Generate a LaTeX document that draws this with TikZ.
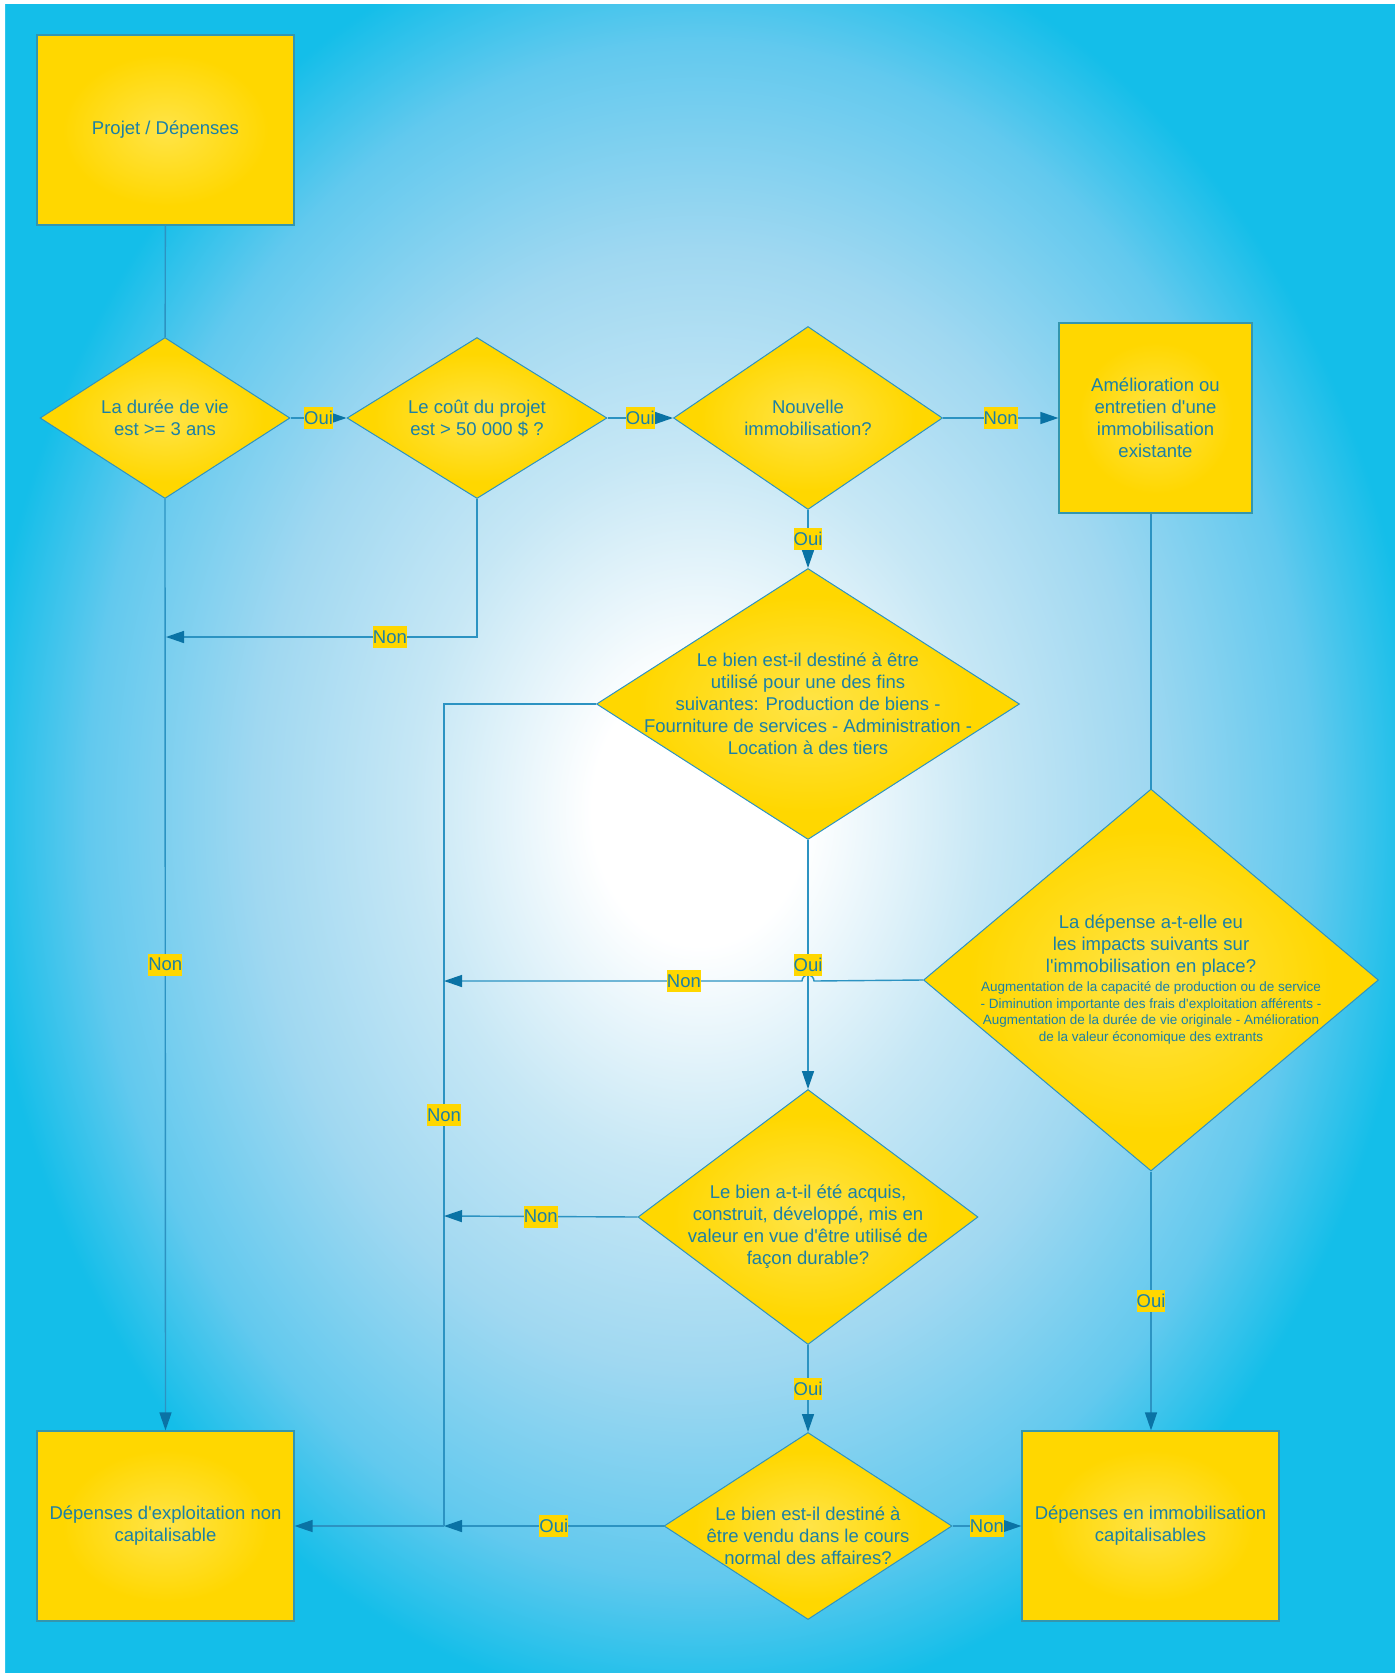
\documentclass[tikz,border=0pt]{standalone}
\usepackage{fontspec}
\setmainfont{Liberation Sans}[Ligatures=TeXOff]
\usetikzlibrary{shapes.geometric,arrows.meta}

\definecolor{bgcyan}{HTML}{14BEE9}
\definecolor{bgmid}{HTML}{62C9EE}
\definecolor{bgsoft}{HTML}{A0D8F1}
\definecolor{bglight}{HTML}{C6E7F5}
\definecolor{yellowfill}{HTML}{FFD700}
\definecolor{yellowlight}{HTML}{FFE448}
\definecolor{textblue}{HTML}{1B80A6}
\definecolor{lineblue}{HTML}{2C93C2}
\definecolor{tipblue}{HTML}{0A73A5}
\definecolor{edgeteal}{HTML}{3496AE}

\pgfdeclareradialshading{bgglow}{\pgfpointorigin}{%
  color(0bp)=(white); color(7.5bp)=(white); color(20bp)=(bglight);
  color(31bp)=(bgsoft); color(42.5bp)=(bgmid); color(50bp)=(bgcyan)}
\pgfdeclareradialshading{yglow}{\pgfpointorigin}{%
  color(0bp)=(yellowlight); color(20bp)=(yellowfill); color(50bp)=(yellowfill)}

\begin{document}
\begin{tikzpicture}[
      x=0.5pt, y=-0.5pt,
      every node/.style={font=\fontsize{9.25pt}{11pt}\selectfont, text=textblue, align=center},
      box/.style={rectangle, draw=edgeteal, line width=0.6pt, shading=yglow,
        minimum width=128.5pt, minimum height=95pt},
      dia/.style={diamond, draw=lineblue, line width=0.5pt, shading=yglow, inner sep=0pt},
      qtext/.style={inner sep=0pt},
      smalltext/.style={font=\fontsize{6.75pt}{8.35pt}\selectfont, inner sep=0pt},
      lbl/.style={fill=yellowfill, inner sep=0pt, minimum height=11pt},
      link/.style={draw=lineblue, line width=0.7pt},
      arrow/.style={link, -{Triangle[length=9pt, width=6pt, color=tipblue]}}
    ]

    % Background
    \useasboundingbox (0,0) rectangle (1400,1675);
    \begin{scope}
      \clip (5,4) rectangle (1395,1673);
      \fill[bgcyan] (5,4) rectangle (1395,1673);
      \node[inner sep=0pt, transform shape, xscale=7.17, yscale=9] (bg) at (700,810)
        {\pgfuseshading{bgglow}};
    \end{scope}
    \fill[white, even odd rule] (0,0) rectangle (1400,1675) (5,4) rectangle (1395,1673);

    % Top row
    \node[box] (projet) at (165.5,130) {Projet / Dépenses};
    \node[dia, minimum width=125pt, minimum height=80.5pt] (duree) at (165,418) {};
    \node[qtext] (duree-t) at (duree) {La durée de vie\\est >= 3 ans};
    \node[dia, minimum width=130pt, minimum height=80.5pt] (cout) at (477,418) {};
    \node[qtext] (cout-t) at (cout) {Le coût du projet\\est > 50 000 \$ ?};
    \node[dia, minimum width=134.5pt, minimum height=91.5pt] (nouvelle) at (808,418) {};
    \node[qtext] (nouvelle-t) at (nouvelle) {Nouvelle\\immobilisation?};
    \node[box, minimum width=96.5pt] (amelioration) at (1155.5,418)
      {Amélioration ou\\entretien d'une\\immobilisation\\existante};

    % Middle questions
    \node[dia, minimum width=211.5pt, minimum height=135.5pt] (fins) at (808,704) {};
    \node[qtext] (fins-t) at (fins) {Le bien est-il destiné à être\\utilisé pour une des fins\\suivantes: Production de biens -\\Fourniture de services - Administration -\\Location à des tiers};
    \node[dia, minimum width=227.5pt, minimum height=191pt] (impacts) at (1151,980) {};
    \node[qtext] (impacts-t) at (1151,946) {La dépense a-t-elle eu\\les impacts suivants sur\\l'immobilisation en place?};
    \node[smalltext] (impacts-s) at (1151,1013) {Augmentation de la capacité de production ou de service\\- Diminution importante des frais d'exploitation afférents -\\Augmentation de la durée de vie originale - Amélioration\\de la valeur économique des extrants};
    \node[dia, minimum width=170pt, minimum height=127.5pt] (acquis) at (808,1217) {};
    \node[qtext] (acquis-t) at (808,1227) {Le bien a-t-il été acquis,\\construit, développé, mis en\\valeur en vue d'être utilisé de\\façon durable?};

    % Bottom row
    \node[box] (exploitation) at (165.5,1526) {Dépenses d'exploitation non\\capitalisable};
    \node[dia, minimum width=144pt, minimum height=93.5pt] (vendu) at (808,1526) {};
    \node[qtext] (vendu-t) at (808,1536) {Le bien est-il destiné à\\être vendu dans le cours\\normal des affaires?};
    \node[box] (capital) at (1150.5,1526) {Dépenses en immobilisation\\capitalisables};

    % Junctions
    \coordinate (coutj) at (166,637);
    \coordinate (finsj) at (444,1526);
    \coordinate (impj) at (444,981);
    \coordinate (acqj) at (444,1216);
    \coordinate (hopr) at (814,981);

    % Connectors
    \draw[link] (projet) -- (duree);
    \draw[arrow] (duree.east) -- node[lbl] {Oui} (cout.west);
    \draw[arrow] (cout.east) -- node[lbl] {Oui} (nouvelle.west);
    \draw[arrow] (nouvelle.east) -- node[lbl] {Non} (amelioration.west);
    \draw[arrow] (nouvelle.south) -- node[lbl] {Oui} (fins.north);
    \draw[arrow] (cout.south) |- node[lbl, pos=0.64] {Non} (coutj);
    \draw[arrow] (duree.south) -- node[lbl] {Non} (exploitation.north);
    \draw[link] (fins.west) -| node[lbl, pos=0.75] {Non} (finsj);
    \draw[link] (amelioration.south -| impacts.north) -- (impacts.north);
    \draw[arrow] (impacts.west) -- (hopr) arc[start angle=0, end angle=180, radius=3pt]
      -- node[lbl, pos=0.33] {Non} (impj);
    \draw[arrow] (fins.south) -- node[lbl] {Oui} (acquis.north);
    \draw[arrow] (acquis.west) -- node[lbl] {Non} (acqj);
    \draw[arrow] (acquis.south) -- node[lbl] {Oui} (vendu.north);
    \draw[arrow] (vendu.west) -- node[lbl] {Oui} (finsj);
    \draw[arrow] (finsj) -- (exploitation.east);
    \draw[arrow] (vendu.east) -- node[lbl] {Non} (capital.west);
    \draw[arrow] (impacts.south) -- node[lbl] {Oui} (impacts.south |- capital.north);

\end{tikzpicture}
\end{document}
